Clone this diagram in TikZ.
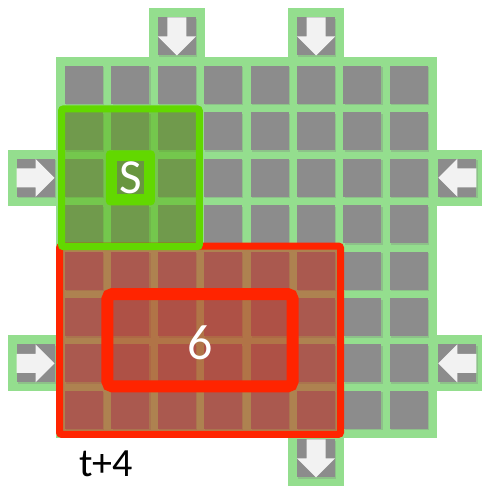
\documentclass[tikz,border=0pt]{standalone}
\usepackage{fontspec}
\setmainfont{Carlito}
\usetikzlibrary{positioning, fit, backgrounds, shadows}

\definecolor{padgreen}{RGB}{148,222,142}
\definecolor{cellgray}{RGB}{140,140,140}
\definecolor{srcgreen}{RGB}{98,216,0}
\definecolor{srcolive}{RGB}{104,150,64}
\definecolor{hotred}{RGB}{255,36,0}
\definecolor{brick}{RGB}{200,40,20}
\definecolor{arrowfill}{RGB}{242,242,242}

\begin{document}
\begin{tikzpicture}[
  x=1pt, y=-1pt,
  cell/.style={fill=cellgray, minimum size=38pt, inner sep=0pt, outer sep=0pt,
    drop shadow={shadow xshift=1.2pt, shadow yshift=-1.5pt, opacity=0.3}},
  tab/.style={cell},
  pad/.style={fill=padgreen, draw=none, inner sep=9pt},
  zonebox/.style={draw=hotred, line width=7pt, fill=brick, fill opacity=0.5,
    rounded corners=2pt, inner sep=5.5pt},
  corebox/.style={draw=hotred, line width=12pt, fill=brick, fill opacity=0.15,
    rounded corners=5pt, inner sep=4pt},
  windowbox/.style={draw=srcgreen, line width=7pt, fill=srcgreen!80!black, fill opacity=0.45,
    rounded corners=2pt, inner sep=3.5pt},
  srcmark/.style={fill=srcgreen, rounded corners=4pt, minimum width=49pt,
    minimum height=55pt, inner sep=0pt},
  srcletter/.style={fill=srcolive, minimum width=27pt, minimum height=33pt, inner sep=0pt,
    text=white, font=\fontsize{49}{50}\selectfont},
  numlbl/.style={text=white, font=\fontsize{50}{52}\selectfont},
  steplbl/.style={text=black, inner sep=0pt, font=\fontsize{40}{44}\selectfont},
  tabarrow/.pic={\fill[arrowfill] (-9.5,-19) -- (9.5,-19) -- (9.5,0) -- (19,0)
    -- (0,19) -- (-19,0) -- (-9.5,0) -- cycle;},
  node distance=10.5pt
]
\useasboundingbox (0,0) rectangle (481,486);

% --- 8x8 board of cells ---
\foreach \i in {1,...,8}
  \foreach \j in {1,...,8}
    \node[cell] (c-\i-\j) at ({84+(\i-1)*46.4},{85+(\j-1)*46.4}) {};

% --- inflow / outflow tabs round the board ---
\node[tab, above=of c-3-1] (tabN3) {};
\node[tab, above=of c-6-1] (tabN6) {};
\node[tab, left=of c-1-3]  (tabW3) {};
\node[tab, left=of c-1-7]  (tabW7) {};
\node[tab, right=of c-8-3] (tabE3) {};
\node[tab, right=of c-8-7] (tabE7) {};
\node[tab, below=of c-6-8] (tabS6) {};

\begin{scope}[on background layer]
  \node[pad, fit=(c-1-1)(c-8-8)] (board) {};
  \foreach \t in {tabN3, tabN6, tabW3, tabW7, tabE3, tabE7, tabS6}
    \node[pad, fit=(\t)] {};
\end{scope}

\pic at (tabN3) {tabarrow};
\pic at (tabN6) {tabarrow};
\pic at (tabS6) {tabarrow};
\pic[rotate=90] at (tabW3) {tabarrow};
\pic[rotate=90] at (tabW7) {tabarrow};
\pic[rotate=-90] at (tabE3) {tabarrow};
\pic[rotate=-90] at (tabE7) {tabarrow};

% --- red region and its core ---
\node[zonebox, fit=(c-1-5)(c-6-8)] (zone) {};
\node[corebox, fit=(c-2-6)(c-5-7)] (core) {};
\node[numlbl] (count) at ([yshift=-3pt]core.center) {6};

% --- green window round the source ---
\node[windowbox, fit=(c-1-2)(c-3-4)] (window) {};
\node[srcmark] (src) at (c-2-3) {};
\node[srcletter] (srcS) at (src) {S};

\node[steplbl] (tick) at (106,464) {t+4};

\end{tikzpicture}
\end{document}
